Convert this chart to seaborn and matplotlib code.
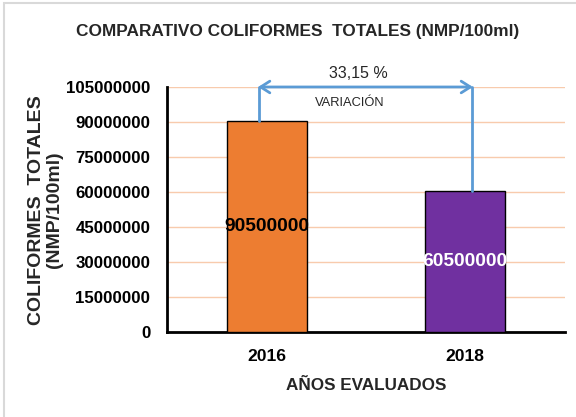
import matplotlib
matplotlib.use("Agg")
import matplotlib.pyplot as plt
import seaborn as sns
from matplotlib.patches import Rectangle

# data
years = ["2016", "2018"]
coliformes = [90500000, 60500000]
bar_colors = ["#ED7D31", "#7030A0"]
label_colors = ["black", "white"]
yticks = [0, 15000000, 30000000, 45000000, 60000000, 75000000, 90000000, 105000000]

sns.set_theme(style="white")
plt.rcParams["font.family"] = ["Liberation Sans", "DejaVu Sans"]

fig = plt.figure(figsize=(5.76, 4.17), dpi=100)
ax = fig.add_axes([167 / 576, 1 - 332 / 417, 398 / 576, 245 / 417])

sns.barplot(x=years, y=coliformes, hue=years, palette=bar_colors, legend=False,
            width=0.404, edgecolor="black", linewidth=1, saturation=1, ax=ax, zorder=3)

ax.set_xlim(-0.505, 1.505)
ax.set_ylim(0, yticks[-1])
ax.set_yticks(yticks)
ax.set_yticklabels([str(t) for t in yticks], fontsize=12.2, fontweight="bold")
ax.set_xticks(range(len(years)))
ax.set_xticklabels(years, fontsize=12.6, fontweight="bold")
ax.tick_params(axis="y", length=0, pad=12, colors="black")
ax.tick_params(axis="x", length=0, pad=12, colors="black")
ax.yaxis.grid(True, color="#F8CBAD", linewidth=1)
ax.set_axisbelow(True)
for s in ["top", "right"]:
    ax.spines[s].set_visible(False)
for s in ["left", "bottom"]:
    ax.spines[s].set_color("black")
    ax.spines[s].set_linewidth(2)

ax.set_xlabel("AÑOS EVALUADOS", fontsize=12.3, fontweight="bold", labelpad=10)
ax.set_ylabel("")

# value labels in the middle of each bar
for i, v in enumerate(coliformes):
    ax.text(i, v / 2, str(v), ha="center", va="center", fontsize=13.8,
            fontweight="bold", color=label_colors[i], zorder=5)

# variation bracket
blue = "#5B9BD5"
top = yticks[-1]
xl, xr = -0.04, 1.035
ax.plot([xl, xl], [coliformes[0], top], color=blue, lw=2, clip_on=False, zorder=4)
ax.plot([xr, xr], [coliformes[1], top], color=blue, lw=2, clip_on=False, zorder=4)
ax.annotate("", xy=(xr + 0.005, top), xytext=(xl - 0.005, top),
            arrowprops=dict(arrowstyle="<->,head_length=0.55,head_width=0.35",
                            color=blue, lw=2, shrinkA=0, shrinkB=0),
            annotation_clip=False, zorder=4)
pct = (coliformes[0] - coliformes[1]) / coliformes[0] * 100
ax.text(0.46, top * 1.057, f"{pct:.2f}".replace(".", ",") + " %", ha="center",
        va="center", fontsize=11.5, clip_on=False)
ax.text(0.42, top * 0.933, "VARIACIÓN", ha="center", va="center", fontsize=9.3)

fig.text(297.5 / 576, 1 - 31.5 / 417, "COMPARATIVO COLIFORMES  TOTALES (NMP/100ml)",
         ha="center", va="center", fontsize=12.4, fontweight="bold")
fig.text(45.5 / 576, 1 - 210 / 417, "COLIFORMES  TOTALES\n(NMP/100ml)", rotation=90,
         ha="center", va="center", multialignment="center", linespacing=1.0,
         fontsize=14, fontweight="bold")

# outer chart frame
fig.patches.append(Rectangle((4 / 576, -0.05), 1.2, 1 - 3 / 417 + 0.05,
                             transform=fig.transFigure, fill=False,
                             edgecolor="#D9D9D9", linewidth=1.5))

fig.savefig("out.png", dpi=100)
